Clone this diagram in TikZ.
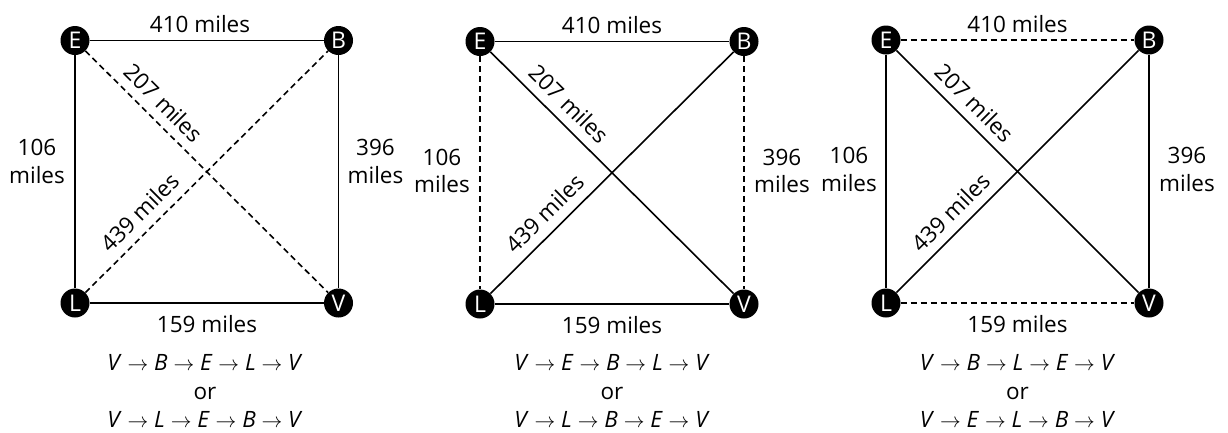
\documentclass[tikz,border=0pt]{standalone}
\usepackage{fontspec}
\setmainfont{Open Sans}
\newcommand{\ra}{\ensuremath{\rightarrow}}
\begin{document}
\begin{tikzpicture}[x=1pt,y=-1pt,
  city/.style={circle,fill=black,text=white,minimum size=29pt,inner sep=0pt,font=\fontsize{23}{23}\selectfont},
  road/.style={line width=1.6pt},
  unused/.style={line width=1.6pt,dash pattern=on 6pt off 4pt},
  lbl/.style={font=\fontsize{22.5}{27}\selectfont,inner sep=0pt,anchor=base},
  dlbl/.style={font=\fontsize{22.5}{27}\selectfont,inner sep=0pt,sloped,above=9pt},
  route/.style={font=\fontsize{22.5}{27}\selectfont,inner sep=0pt,anchor=base}]
\useasboundingbox (0,0) rectangle (1228,432);

% ---------- Panel 1 ----------
\node[city] (E1) at (75,40.5) {E};
\node[city] (B1) at (338.5,40.5) {B};
\node[city] (L1) at (75,303) {L};
\node[city] (V1) at (338.5,303) {V};
\draw[road] (E1) -- (B1);
\draw[road] (B1) -- (V1);
\draw[road] (V1) -- (L1);
\draw[road] (L1) -- (E1);
\draw[unused] (E1) -- node[dlbl,pos=0.27] {207 miles} (V1);
\draw[unused] (L1) -- node[dlbl,pos=0.278] {439 miles} (B1);
\node[lbl] (t410a) at (200,32) {410 miles};
\node[lbl] (t159a) at (207,332) {159 miles};
\node[lbl] (t106a) at (37,155) {106};
\node[lbl] (t106b) at (37,183) {miles};
\node[lbl] (t396a) at (375.5,155) {396};
\node[lbl] (t396b) at (375.5,183) {miles};
\node[route] (r1a) at (205,370) {\textit{V} \ra{} \textit{B} \ra{} \textit{E} \ra{} \textit{L} \ra{} \textit{V}};
\node[route] (r1b) at (205,399) {or};
\node[route] (r1c) at (205,427) {\textit{V} \ra{} \textit{L} \ra{} \textit{E} \ra{} \textit{B} \ra{} \textit{V}};

% ---------- Panel 2 ----------
\node[city] (E2) at (480,41.5) {E};
\node[city] (B2) at (744,41.5) {B};
\node[city] (L2) at (480,304) {L};
\node[city] (V2) at (744,304) {V};
\draw[road] (E2) -- (B2);
\draw[road] (L2) -- (V2);
\draw[unused] (E2) -- (L2);
\draw[unused] (B2) -- (V2);
\draw[road] (E2) -- node[dlbl,pos=0.27] {207 miles} (V2);
\draw[road] (L2) -- node[dlbl,pos=0.278] {439 miles} (B2);
\node[lbl] (t410b) at (612,33) {410 miles};
\node[lbl] (t159b) at (612,333) {159 miles};
\node[lbl] (t106c) at (442,165) {106};
\node[lbl] (t106d) at (442,192.5) {miles};
\node[lbl] (t396c) at (782,165) {396};
\node[lbl] (t396d) at (782,192.5) {miles};
\node[route] (r2a) at (612,370) {\textit{V} \ra{} \textit{E} \ra{} \textit{B} \ra{} \textit{L} \ra{} \textit{V}};
\node[route] (r2b) at (612,399) {or};
\node[route] (r2c) at (612,427) {\textit{V} \ra{} \textit{L} \ra{} \textit{B} \ra{} \textit{E} \ra{} \textit{V}};

% ---------- Panel 3 ----------
\node[city] (E3) at (886,40) {E};
\node[city] (B3) at (1149,40) {B};
\node[city] (L3) at (886,303) {L};
\node[city] (V3) at (1149,303) {V};
\draw[unused] (E3) -- (B3);
\draw[unused] (L3) -- (V3);
\draw[road] (E3) -- (L3);
\draw[road] (B3) -- (V3);
\draw[road] (E3) -- node[dlbl,pos=0.27] {207 miles} (V3);
\draw[road] (L3) -- node[dlbl,pos=0.278] {439 miles} (B3);
\node[lbl] (t410c) at (1017.5,32) {410 miles};
\node[lbl] (t159c) at (1017.5,332) {159 miles};
\node[lbl] (t106e) at (849,163) {106};
\node[lbl] (t106f) at (849,191.5) {miles};
\node[lbl] (t396e) at (1187,163) {396};
\node[lbl] (t396f) at (1187,191.5) {miles};
\node[route] (r3a) at (1017.5,370) {\textit{V} \ra{} \textit{B} \ra{} \textit{L} \ra{} \textit{E} \ra{} \textit{V}};
\node[route] (r3b) at (1017.5,399) {or};
\node[route] (r3c) at (1017.5,427) {\textit{V} \ra{} \textit{E} \ra{} \textit{L} \ra{} \textit{B} \ra{} \textit{V}};
\end{tikzpicture}
\end{document}
